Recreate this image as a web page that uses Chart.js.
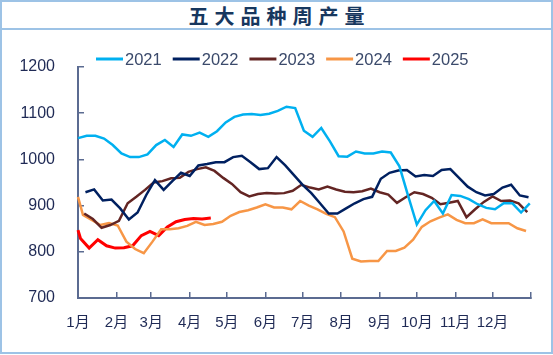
<!DOCTYPE html>
<html><head><meta charset="utf-8">
<script src="https://cdn.jsdelivr.net/npm/chart.js@4.4.1/dist/chart.umd.min.js"></script>
<style>
html,body{margin:0;padding:0;width:553px;height:355px;overflow:hidden;background:#fff;}
#title{position:absolute;left:0;top:0;width:553px;height:30px;box-sizing:border-box;border:2px solid #9DC3E6;text-align:center;font-family:"Noto Sans CJK SC";font-weight:700;font-size:20px;color:#17375E;line-height:27px;letter-spacing:6px;padding-left:6px;}
#box{position:absolute;left:0;top:28px;width:553px;height:326px;box-sizing:border-box;border:2px solid #9DC3E6;}
#c{position:absolute;left:0;top:0;}
</style></head><body>
<div id="title">五大品种周产量</div>
<div id="box"></div>
<canvas id="c" width="553" height="355"></canvas>
<script>
const years = ['2021', '2022', '2023', '2024', '2025'];
const firstReportDay = [0, 6, 5, 4, 2];           // day-of-year of first weekly reading
const jan1Value = [null, null, null, 919, 847];    // value at Jan 1 (carried from previous year)
const s2021 = [1046,1051,1051,1045,1031,1013,1005,1005,1011,1031,1042,1027,1054,1051,1058,1049,1061,1080,1092,1097,1098,1096,1099,1105,1114,1111,1062,1049,1068,1039,1007,1006,1017,1013,1013,1017,1015,985,921,859,890,910,883,923,921,914,903,895,892,905,905,885,905];
const s2022 = [929,935,911,913,894,870,885,923,955,934,953,971,964,987,990,994,994,1005,1008,994,979,981,1005,987,966,945,927,905,883,883,894,905,914,919,958,971,976,977,963,966,964,977,979,960,941,929,922,925,939,945,922,918];
const s2023 = [883,871,852,858,867,905,919,934,950,953,959,960,973,979,983,975,960,947,929,920,925,927,926,927,932,945,939,935,941,935,930,929,931,937,929,924,906,918,929,925,917,903,906,910,875,892,908,920,910,911,905,886];
const s2024 = [880,869,858,862,857,822,806,797,822,849,849,851,856,865,858,860,865,878,886,890,896,903,896,896,892,910,900,892,882,875,844,785,779,780,780,802,802,809,826,854,866,874,881,869,862,862,870,862,862,862,851,845];
const s2025 = [829,808,826,813,808,809,813,835,844,835,854,865,870,872,871,873];
const seriesValues = [s2021, s2022, s2023, s2024, s2025];
const monthStartDays = [0, 31, 59, 90, 120, 151, 181, 212, 243, 273, 304, 334, 365];
const monthLabels = ['1月','2月','3月','4月','5月','6月','7月','8月','9月','10月','11月','12月',''];
const yMin = 700, yMax = 1200, yStep = 100;
const colors = ['#00B0F0', '#002060', '#632523', '#F79646', '#FF0000'];
const widths = [2.5, 2.5, 2.5, 2.5, 3];

const datasets = years.map((yr, k) => {
  const pts = [];
  if (jan1Value[k] !== null) pts.push({x: 0, y: jan1Value[k]});
  seriesValues[k].forEach((v, i) => pts.push({x: firstReportDay[k] + 7 * i, y: v}));
  return {label: yr, data: pts, borderColor: colors[k], backgroundColor: colors[k],
    borderWidth: widths[k], pointRadius: 0, tension: 0, clip: 4};
});

const axisColor = '#5B6B91';
const tickColor = '#1F2A55';

const lineLegend = {
  id: 'lineLegend',
  afterDraw(chart) {
    const ctx = chart.ctx;
    ctx.save();
    ctx.font = '16.5px "Liberation Sans"';
    ctx.textBaseline = 'middle';
    let x = 96; const y = 59;
    chart.data.datasets.forEach(ds => {
      ctx.strokeStyle = ds.borderColor; ctx.lineWidth = 3;
      ctx.beginPath(); ctx.moveTo(x, y); ctx.lineTo(x + 27, y); ctx.stroke();
      x += 29;
      ctx.fillStyle = '#3B4A6B';
      ctx.fillText(ds.label, x, y + 1);
      x += ctx.measureText(ds.label).width + 11;
    });
    ctx.restore();
  }
};

new Chart(document.getElementById('c'), {
  type: 'line',
  data: {datasets},
  options: {
    responsive: false, animation: false,
    layout: {padding: {top: 67, left: 0, right: 14, bottom: 0}},
    plugins: {legend: {display: false}, tooltip: {enabled: false}},
    scales: {
      x: {
        type: 'linear', min: 0, max: 365,
        afterBuildTicks: s => { s.ticks = monthStartDays.map(v => ({value: v})); },
        afterFit: s => { s.height = 57; },
        ticks: {autoSkip: false, maxRotation: 0, padding: 22, color: tickColor,
          font: {family: '"Liberation Sans", "Noto Sans CJK SC"', size: 15},
          callback: (v) => monthLabels[monthStartDays.indexOf(v)]},
        grid: {drawOnChartArea: false, drawTicks: true, tickLength: -6, color: axisColor, lineWidth: 1.5},
        border: {display: true, color: axisColor, width: 2}
      },
      y: {
        min: yMin, max: yMax,
        afterFit: s => { s.width = 78; },
        ticks: {stepSize: yStep, padding: 29, color: tickColor,
          font: {family: '"Liberation Sans"', size: 16},
          callback: (v) => String(v)},
        grid: {drawOnChartArea: false, drawTicks: true, tickLength: -6, color: axisColor, lineWidth: 1.5},
        border: {display: true, color: axisColor, width: 2}
      }
    }
  },
  plugins: [lineLegend]
});
</script>
</body></html>
